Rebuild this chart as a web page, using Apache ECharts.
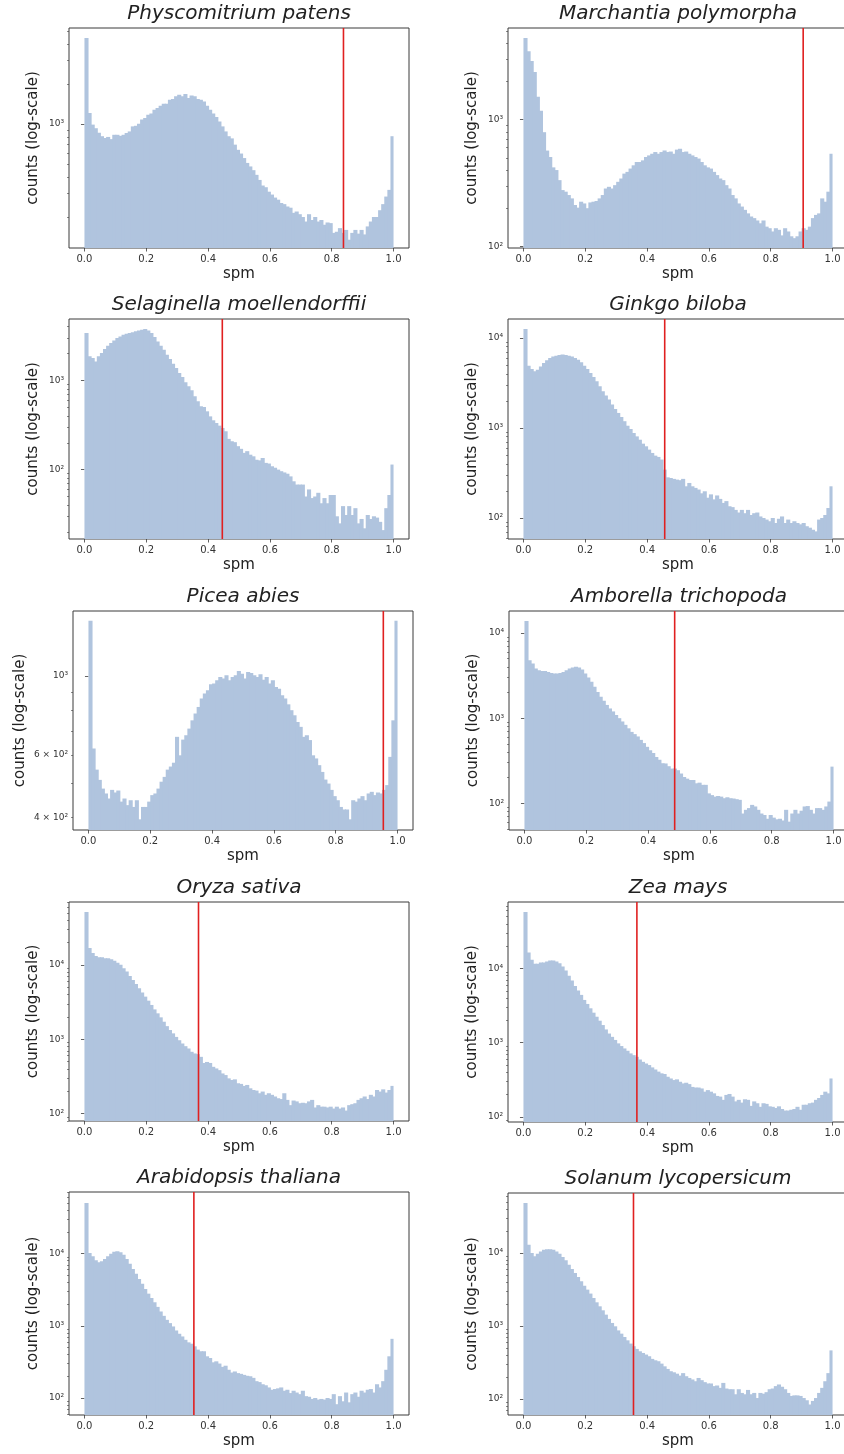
<!DOCTYPE html>
<html>
<head>
<meta charset="utf-8">
<script src="https://cdn.jsdelivr.net/npm/echarts@6/dist/echarts.min.js"></script>
<style>
html,body{margin:0;padding:0;background:#fff;}
#chart{width:844px;height:1454px;}
</style>
</head>
<body>
<div id="chart"></div>
<script>
// ---------- DATA ----------
const titles = ['Physcomitrium patens','Marchantia polymorpha','Selaginella moellendorffii','Ginkgo biloba','Picea abies','Amborella trichopoda','Oryza sativa','Zea mays','Arabidopsis thaliana','Solanum lycopersicum'];

const binWidth = 0.01;

const physcomitrium = [4430,1210,990,930,860,810,785,800,770,830, 830,815,830,856,880,960,970,1005,1080,1110, 1175,1200,1280,1320,1375,1420,1420,1525,1540,1615, 1660,1615,1680,1570,1640,1615,1540,1525,1480,1375, 1280,1200,1130,1045,960,880,810,780,700,640, 600,555,510,480,450,415,380,345,335,310, 295,280,270,255,250,240,235,215,220,210, 200,185,210,190,200,185,190,175,182,180, 152,155,165,152,160,135,152,160,150,160, 148,170,185,200,200,225,250,285,320,810];

const marchantia = [4420,3470,2900,2380,1515,1176,796,570,507,420, 400,333,278,270,254,239,212,202,225,218, 200,222,225,228,239,254,286,295,286,304, 323,343,375,387,411,436,463,463,477,507, 522,538,555,538,555,571,555,560,538,580, 589,555,560,538,522,507,493,463,436,420, 411,387,365,343,333,304,286,254,239,218, 206,194,182,172,167,160,152,160,143,139, 131,139,135,122,139,131,120,116,120,131, 139,135,143,167,177,182,239,225,270,538];

const selaginella = [3390,1860,1780,1630,1860,2020,2240,2440,2620,2800, 2980,3110,3250,3330,3390,3450,3540,3630,3690,3760, 3630,3390,3060,2730,2440,2200,1940,1730,1540,1375, 1208,1090,950,857,773,662,582,512,503,450, 395,357,333,311,293,269,221,208,203,183, 171,154,161,147,141,129,127,135,119,117, 109,105,100,96,93,90,84,74,68,68, 68,50,60,48,50,55,42,48,42,52, 52,30,25,39,31,39,31,37,25,28, 22,31,28,30,29,26,21,37,52,114];

const ginkgo = [12600,4930,4530,4260,4450,4840,5280,5650,6000,6250, 6370,6480,6540,6480,6370,6250,6000,5740,5370,4930, 4530,4080,3690,3300,2910,2560,2290,2070,1820,1630, 1470,1325,1190,1060,975,880,807,741,670,626, 575,528,493,477,446,345,283,278,272,267, 263,272,225,245,225,216,207,188,198,168, 183,161,178,163,147,154,135,132,123,115, 123,113,123,108,113,115,104,100,96,92, 100,88,98,104,88,96,88,92,88,85, 88,81,78,74,71,96,100,108,129,225];

const picea = [1430,625,545,510,482,467,452,478,470,476, 443,452,433,447,428,447,395,428,428,443, 462,467,482,504,520,545,556,570,674,598, 662,681,711,750,784,818,864,892,911,947, 952,972,993,983,1004,972,993,1004,1033,1015, 983,1026,1019,1004,993,1011,976,993,952,972, 931,921,882,864,832,801,775,742,719,674, 681,660,598,586,561,537,511,498,478,459, 447,428,421,421,395,447,443,452,459,447, 467,472,462,470,467,478,493,592,750,1430];

const amborella = [13800,4790,4370,3820,3650,3580,3580,3490,3400,3340, 3340,3400,3490,3650,3820,3930,4000,3930,3720,3340, 3000,2670,2330,2030,1780,1600,1430,1300,1200,1090, 1000,915,835,760,690,650,610,556,510,461, 420,390,350,325,296,294,273,256,256,245, 224,204,195,188,188,172,175,165,165,131, 125,120,122,120,115,118,115,114,112,110, 76,84,88,96,92,84,76,73,66,73, 68,65,66,63,84,61,76,84,76,82, 92,93,84,76,88,88,84,92,105,270];

const oryza = [51300,16800,14400,13200,12700,12700,12300,12300,11900,11400, 10700,10000,9020,8130,7110,6280,5540,4850,4240,3740, 3300,2890,2520,2230,1970,1720,1500,1330,1200,1075, 970,877,807,751,678,644,630,580,480,495, 480,426,405,384,347,330,298,283,289,256, 251,236,243,219,208,204,188,198,179,188, 179,170,161,157,188,153,130,150,146,138, 140,138,146,153,121,130,124,124,121,124, 117,124,117,121,110,130,134,138,153,161, 170,157,179,170,208,198,212,192,208,236];

const zea = [57700,16450,13100,11560,11560,12050,12050,12430,12830,12830, 12430,11800,10640,9400,7960,6880,5830,5040,4410,3770, 3330,2910,2540,2240,1980,1730,1510,1330,1200,1090, 980,902,838,779,718,680,646,594,553,525, 500,465,436,408,387,379,348,330,314,321, 298,283,289,277,254,249,249,242,219,230, 219,208,192,188,170,198,204,188,162,170, 156,173,170,141,162,153,137,153,150,139, 137,132,139,128,122,122,125,128,137,125, 146,146,153,156,170,180,198,219,208,330];

const arabidopsis = [50400,10200,9180,8080,7580,7830,8440,9180,10000,10660, 10770,10430,9690,8440,7270,6130,5280,4460,3840,3240, 2790,2430,2120,1830,1580,1375,1210,1090,980,862, 776,712,640,590,565,520,468,444,444,378, 358,312,322,300,270,280,246,225,233,221, 216,209,203,200,190,171,166,155,150,140, 130,133,136,140,126,130,117,126,119,113, 126,106,104,97,100,95,97,95,100,97, 113,82,106,90,119,87,113,119,104,126, 119,130,133,119,155,140,171,246,378,660];

const solanum = [48400,13000,10000,9000,9800,10500,11100,11300,11300,11100, 10500,9800,8800,7930,6920,6040,5320,4690,4090,3570, 3150,2780,2420,2110,1860,1640,1430,1250,1100,990, 870,785,706,636,574,528,485,450,427,406, 385,354,339,329,305,280,258,240,232,222, 209,226,205,194,185,175,194,181,170,163, 163,150,153,142,166,139,136,136,116,136, 121,116,133,116,121,103,121,118,124,136, 139,150,158,147,136,121,110,112,112,110, 103,96,84,94,103,121,142,175,226,463];

const thresholds = [0.838, 0.905, 0.446, 0.457, 0.954, 0.486, 0.369, 0.367, 0.354, 0.356];

const yMins = [117, 97, 16.7, 58.4, 368.6, 48.7, 79.6, 85.5, 58.1, 60.3];
const yMaxs = [5270, 5290, 4870, 16270, 1523, 18100, 70000, 78700, 71500, 66400];

const xTickValues = [0, 0.2, 0.4, 0.6, 0.8, 1.0];
const xTickLabels = ['0.0', '0.2', '0.4', '0.6', '0.8', '1.0'];

const yTickValues = [[1000],[100,1000],[100,1000],[100,1000,10000],[400,600,1000],[100,1000,10000],[100,1000,10000],[100,1000,10000],[100,1000,10000],[100,1000,10000]];
const yTickLabelMap = {100:'10²', 400:'4 × 10²', 600:'6 × 10²', 1000:'10³', 10000:'10⁴'};

const seriesCounts = [physcomitrium, marchantia, selaginella, ginkgo, picea, amborella, oryza, zea, arabidopsis, solanum];

// ---------- LAYOUT ----------
const L = [69, 508, 69, 508, 73, 509, 69, 508, 69, 508];
const T = [28, 28, 319, 319, 611, 611, 902, 902, 1192, 1193];
const B = [248, 248, 539, 539, 830, 830, 1121, 1122, 1415, 1415];
const W = 340;
const yNameGap = [28, 28, 28, 28, 45, 28, 28, 28, 28, 28];

const FONT = 'DejaVu Sans';
const BAR = '#b0c4de';
const TXT = '#222';
const AX = '#3a3a3a';

function powersIn(mn, mx){
  const out = [];
  for (let k = Math.floor(Math.log10(mn)); k <= Math.ceil(Math.log10(mx)); k++){
    const v = Math.pow(10, k); if (v >= mn && v <= mx) out.push(v);
  }
  return out;
}
function minorsIn(mn, mx){
  const out = [];
  for (let k = Math.floor(Math.log10(mn)); k <= Math.ceil(Math.log10(mx)); k++){
    for (let m = 2; m <= 9; m++){
      const v = m * Math.pow(10, k); if (v >= mn && v <= mx) out.push(v);
    }
  }
  return out;
}

const option = {
  animation: false,
  backgroundColor: '#fff',
  title: [], grid: [], xAxis: [], yAxis: [], series: []
};

seriesCounts.forEach((counts, i) => {
  option.title.push({
    text: titles[i], left: L[i] + W / 2, top: T[i] - 24, textAlign: 'center', padding: 0,
    textStyle: { fontFamily: FONT, fontStyle: 'italic', fontWeight: 'normal', fontSize: 20, color: TXT }
  });
  option.grid.push({
    left: L[i], top: T[i], width: W, height: B[i] - T[i],
    show: true, borderColor: AX, borderWidth: 1, backgroundColor: 'transparent',
    containLabel: false, outerBoundsMode: 'none'
  });
  option.xAxis.push({
    gridIndex: i, type: 'value', min: -0.05, max: 1.05,
    axisLine: { show: false }, splitLine: { show: false },
    axisTick: { show: true, customValues: xTickValues, length: 3.5, lineStyle: { color: AX, width: 0.8 } },
    axisLabel: { customValues: xTickValues, formatter: v => xTickLabels[xTickValues.findIndex(x => Math.abs(x - v) < 1e-9)] || '',
      fontFamily: FONT, fontSize: 10, color: '#333', margin: 6 },
    name: 'spm', nameLocation: 'middle', nameGap: 19,
    nameTextStyle: { fontFamily: FONT, fontSize: 15, color: TXT }
  });
  // major y axis
  option.yAxis.push({
    gridIndex: i, type: 'log', logBase: 10, min: yMins[i], max: yMaxs[i],
    axisLine: { show: false }, splitLine: { show: false }, minorTick: { show: false },
    axisTick: { show: true, customValues: powersIn(yMins[i], yMaxs[i]), length: 3.5, lineStyle: { color: AX, width: 0.8 } },
    axisLabel: { customValues: yTickValues[i], formatter: v => {
        const key = Object.keys(yTickLabelMap).find(k => Math.abs(+k - v) / +k < 1e-6);
        return key ? yTickLabelMap[key] : '';
      }, fontFamily: FONT, fontSize: 9, color: '#333', margin: 5 },
    name: 'counts (log-scale)', nameLocation: 'middle', nameGap: yNameGap[i], nameRotate: 90,
    nameTextStyle: { fontFamily: FONT, fontSize: 15, color: TXT }
  });
});
// minor y axes
seriesCounts.forEach((counts, i) => {
  option.yAxis.push({
    gridIndex: i, type: 'log', logBase: 10, min: yMins[i], max: yMaxs[i], position: 'left', offset: 0,
    axisLine: { show: false }, splitLine: { show: false }, axisLabel: { show: false },
    axisTick: { show: true, customValues: minorsIn(yMins[i], yMaxs[i]), length: 2, lineStyle: { color: AX, width: 0.6 } }
  });
});

seriesCounts.forEach((counts, i) => {
  const last = counts.length - 1;
  option.series.push({
    type: 'custom', xAxisIndex: i, yAxisIndex: i, clip: true,
    data: counts.map((c, j) => [+(j * binWidth).toFixed(2), c]),
    encode: { x: 0, y: 1 },
    renderItem: function (params, api) {
      const x0 = api.value(0), v = api.value(1);
      const p1 = api.coord([x0, v]);
      const p2 = api.coord([x0 + binWidth, v]);
      const cs = params.coordSys;
      const bottom = cs.y + cs.height;
      const extra = params.dataIndex === last ? 0 : 1;
      return { type: 'rect', shape: { x: p1[0], y: p1[1], width: p2[0] - p1[0] + extra, height: bottom - p1[1] },
        style: { fill: BAR, stroke: null } };
    }
  });
  option.series.push({
    type: 'line', xAxisIndex: i, yAxisIndex: i, symbol: 'none', silent: true,
    data: [[thresholds[i], yMins[i]], [thresholds[i], yMaxs[i]]],
    lineStyle: { color: '#e02020', width: 1.6 }, z: 5
  });
});

const chart = echarts.init(document.getElementById('chart'), null, { renderer: 'canvas' });
chart.setOption(option);
</script>
</body>
</html>
